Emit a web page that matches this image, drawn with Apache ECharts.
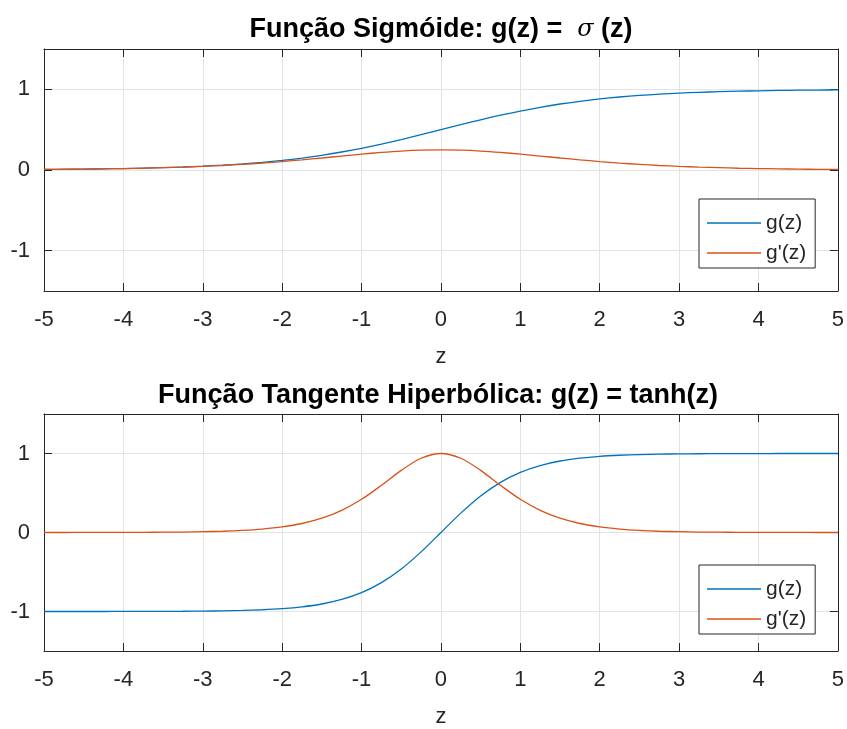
<!DOCTYPE html>
<html>
<head>
<meta charset="utf-8">
<script src="https://cdn.jsdelivr.net/npm/echarts@6/dist/echarts.min.js"></script>
<style>
  html, body { margin: 0; padding: 0; background: #fff; }
  #main { width: 847px; height: 729px; }
</style>
</head>
<body>
<div id="main"></div>
<script>
// z values (x axis) and curves
const zVals = [-5, -4.75, -4.5, -4.25, -4, -3.75, -3.5, -3.25, -3, -2.75, -2.5, -2.25, -2, -1.75, -1.5, -1.25, -1, -0.75, -0.5, -0.25,
  0, 0.25, 0.5, 0.75, 1, 1.25, 1.5, 1.75, 2, 2.25, 2.5, 2.75, 3, 3.25, 3.5, 3.75, 4, 4.25, 4.5, 4.75, 5];

const sigG = [0.007, 0.009, 0.011, 0.014, 0.018, 0.023, 0.029, 0.037, 0.047, 0.060, 0.076, 0.095, 0.119, 0.148, 0.182, 0.223, 0.269, 0.321, 0.378, 0.438,
  0.500, 0.562, 0.622, 0.679, 0.731, 0.777, 0.818, 0.852, 0.881, 0.905, 0.924, 0.940, 0.953, 0.963, 0.971, 0.977, 0.982, 0.986, 0.989, 0.991, 0.993];
const sigD = [0.007, 0.008, 0.011, 0.014, 0.018, 0.022, 0.029, 0.036, 0.045, 0.056, 0.070, 0.086, 0.105, 0.126, 0.149, 0.173, 0.197, 0.218, 0.235, 0.246,
  0.250, 0.246, 0.235, 0.218, 0.197, 0.173, 0.149, 0.126, 0.105, 0.086, 0.070, 0.056, 0.045, 0.036, 0.029, 0.022, 0.018, 0.014, 0.011, 0.008, 0.007];

const tanhG = [-1.000, -1.000, -1.000, -1.000, -0.999, -0.999, -0.998, -0.997, -0.995, -0.992, -0.987, -0.978, -0.964, -0.941, -0.905, -0.848, -0.762, -0.635, -0.462, -0.245,
  0.000, 0.245, 0.462, 0.635, 0.762, 0.848, 0.905, 0.941, 0.964, 0.978, 0.987, 0.992, 0.995, 0.997, 0.998, 0.999, 0.999, 1.000, 1.000, 1.000, 1.000];
const tanhD = [0.000, 0.000, 0.001, 0.001, 0.001, 0.002, 0.004, 0.006, 0.010, 0.016, 0.027, 0.044, 0.071, 0.114, 0.181, 0.281, 0.420, 0.597, 0.786, 0.940,
  1.000, 0.940, 0.786, 0.597, 0.420, 0.281, 0.181, 0.114, 0.071, 0.044, 0.027, 0.016, 0.010, 0.006, 0.004, 0.002, 0.001, 0.001, 0.001, 0.000, 0.000];

const yTicks = [-1, 0, 1];
const seriesNames = ['g(z)', "g'(z)"];

const BLUE = '#0072BD';
const ORANGE = '#D95319';
const AXIS = '#262626';
const GRID = '#e3e3e3';
const FONT = 'Liberation Sans, Arial, Helvetica, sans-serif';

function pairs(ys) {
  return zVals.map((z, i) => [z, ys[i]]);
}

function xAxes(gridIndex) {
  const common = {
    gridIndex: gridIndex,
    type: 'value',
    min: -5,
    max: 5,
    interval: 1,
    axisLine: { show: true, onZero: false, lineStyle: { color: AXIS, width: 1 } },
    axisTick: { show: true, inside: true, length: 8, lineStyle: { color: AXIS } },
  };
  return [
    Object.assign({}, common, {
      position: 'bottom',
      name: 'z',
      nameLocation: 'middle',
      nameGap: 55,
      nameTextStyle: { color: AXIS, fontSize: 22, fontFamily: FONT },
      axisLabel: { color: AXIS, fontSize: 22, fontFamily: FONT, margin: 18 },
      splitLine: { show: true, lineStyle: { color: GRID, width: 1 } }
    }),
    Object.assign({}, common, {
      position: 'top',
      axisLabel: { show: false },
      splitLine: { show: false }
    })
  ];
}

function yAxes(gridIndex) {
  const common = {
    gridIndex: gridIndex,
    type: 'value',
    min: -1.5,
    max: 1.5,
    axisLine: { show: true, onZero: false, lineStyle: { color: AXIS, width: 1 } },
    axisTick: { show: true, inside: true, length: 8, customValues: yTicks, lineStyle: { color: AXIS } },
  };
  return [
    Object.assign({}, common, {
      position: 'left',
      axisLabel: { color: AXIS, fontSize: 22, fontFamily: FONT, margin: 14, customValues: yTicks },
      splitLine: { show: true, lineStyle: { color: GRID, width: 1 } }
    }),
    Object.assign({}, common, {
      position: 'right',
      axisLabel: { show: false },
      splitLine: { show: false }
    })
  ];
}

function lineSeries(name, color, axisIdx, ys) {
  return {
    name: name,
    type: 'line',
    xAxisIndex: axisIdx,
    yAxisIndex: axisIdx,
    data: pairs(ys),
    symbol: 'none',
    smooth: 0.3,
    lineStyle: { color: color, width: 1.3 },
    itemStyle: { color: color },
    z: 3
  };
}

function legendBox(top) {
  return {
    data: seriesNames,
    orient: 'vertical',
    left: 699,
    top: top,
    backgroundColor: '#fff',
    borderColor: AXIS,
    borderWidth: 1,
    borderRadius: 0,
    padding: [12, 9, 3, 8],
    icon: 'rect',
    itemWidth: 54,
    itemHeight: 1.5,
    itemGap: 6,
    textStyle: { color: AXIS, fontSize: 21, fontFamily: FONT, lineHeight: 24 },
    selectedMode: false
  };
}

const titleStyle = {
  color: '#000',
  fontSize: 27,
  fontWeight: 'bold',
  fontFamily: FONT,
  rich: {
    s: { fontFamily: 'DejaVu Serif, Liberation Serif, serif', fontStyle: 'italic', fontWeight: 'normal', fontSize: 24, color: '#000' }
  }
};

const chart = echarts.init(document.getElementById('main'), null, { renderer: 'canvas' });

chart.setOption({
  animation: false,
  backgroundColor: '#fff',
  title: [
    { text: 'Função Sigmóide: g(z) =  {s|σ} (z)', left: 436, top: 11, textAlign: 'center', textStyle: titleStyle },
    { text: 'Função Tangente Hiperbólica: g(z) = tanh(z)', left: 433, top: 377, textAlign: 'center', textStyle: titleStyle }
  ],
  grid: [
    { left: 44, top: 49, width: 797, height: 242 },
    { left: 44, top: 414, width: 797, height: 242 }
  ],
  xAxis: xAxes(0).concat(xAxes(1)),
  yAxis: yAxes(0).concat(yAxes(1)),
  legend: [
    Object.assign(legendBox(199), { id: 'l0' }),
    Object.assign(legendBox(565), { id: 'l1' })
  ],
  series: [
    lineSeries(seriesNames[0], BLUE, 0, sigG),
    lineSeries(seriesNames[1], ORANGE, 0, sigD),
    lineSeries(seriesNames[0], BLUE, 2, tanhG),
    lineSeries(seriesNames[1], ORANGE, 2, tanhD)
  ]
});
</script>
</body>
</html>
